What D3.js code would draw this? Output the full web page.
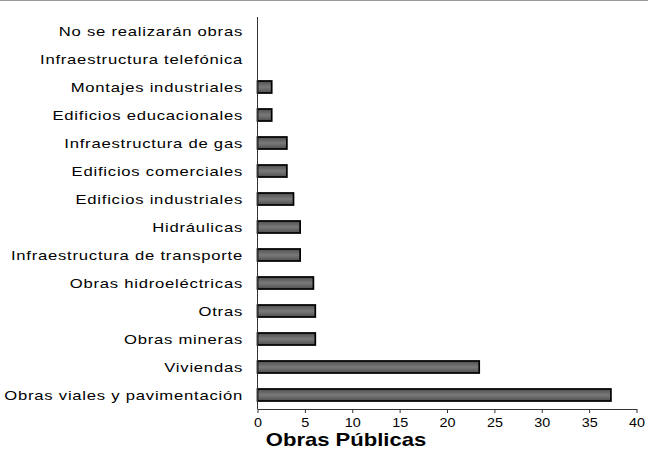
<!DOCTYPE html>
<meta charset="utf-8">
<script src="https://d3js.org/d3.v7.min.js"></script>
<style>
  body { margin: 0; background: #fff; }
  svg { display: block; font-family: Arial, "Liberation Sans", sans-serif; }
  .cat { font-size: 13px; fill: #000; }
  .xaxis text { font-size: 12.5px; fill: #000; }
  .xaxis line, .xaxis path { stroke: #333; }
</style>
<body>
<div id="chart"></div>
<script>
  // categories from top to bottom
  const categories = [
    "No se realizarán obras",
    "Infraestructura telefónica",
    "Montajes industriales",
    "Edificios educacionales",
    "Infraestructura de gas",
    "Edificios comerciales",
    "Edificios industriales",
    "Hidráulicas",
    "Infraestructura de transporte",
    "Obras hidroeléctricas",
    "Otras",
    "Obras mineras",
    "Viviendas",
    "Obras viales y pavimentación"
  ];
  const values = [0, 0, 1.5, 1.5, 3.1, 3.1, 3.8, 4.5, 4.5, 5.9, 6.1, 6.1, 23.4, 37.3];
  const xTicks = [0, 5, 10, 15, 20, 25, 30, 35, 40];
  const title = "Obras Públicas";

  const width = 648, height = 456;

  const svg = d3.select("#chart").append("svg")
    .attr("width", width)
    .attr("height", height);

  svg.append("rect").attr("width", width).attr("height", height).attr("fill", "#fff");
  // thin grey frame line at the top
  svg.append("line")
    .attr("x1", 0).attr("x2", width).attr("y1", 0.5).attr("y2", 0.5)
    .attr("stroke", "#999").attr("stroke-width", 1);

  const grad = svg.append("defs").append("linearGradient")
    .attr("id", "barGrad").attr("x1", 0).attr("x2", 0).attr("y1", 0).attr("y2", 1);
  grad.append("stop").attr("offset", "0%").attr("stop-color", "#4e4e4e");
  grad.append("stop").attr("offset", "50%").attr("stop-color", "#7a7a7a");
  grad.append("stop").attr("offset", "100%").attr("stop-color", "#4e4e4e");

  const x = d3.scaleLinear().domain([0, 40]).range([257.5, 636.5]);
  const y = d3.scaleBand().domain(categories).range([17, 409])
    .paddingInner(0.57).paddingOuter(0.285);

  const rows = categories.map((c, i) => ({ cat: c, val: values[i] }));

  // bars
  svg.append("g").selectAll("rect")
    .data(rows.filter(d => d.val > 0))
    .join("rect")
    .attr("x", x(0))
    .attr("y", d => y(d.cat))
    .attr("width", d => x(d.val) - x(0))
    .attr("height", y.bandwidth())
    .attr("fill", "url(#barGrad)")
    .attr("stroke", "#000")
    .attr("stroke-width", 1.7);

  // x axis
  const xAxis = svg.append("g")
    .attr("class", "xaxis")
    .attr("transform", `translate(0,${409})`)
    .call(d3.axisBottom(x).tickValues(xTicks).tickSize(4).tickSizeOuter(0).tickPadding(5));
  xAxis.selectAll("text").attr("transform", "scale(1.15,1)");

  // y axis line
  svg.append("line")
    .attr("x1", x(0)).attr("x2", x(0))
    .attr("y1", 17).attr("y2", 409)
    .attr("stroke", "#333");

  // category labels, stretched like the original
  svg.append("g").selectAll("text")
    .data(categories)
    .join("text")
    .attr("class", "cat")
    .attr("text-anchor", "end")
    .attr("transform", d => `translate(243,${y(d) + y.bandwidth() / 2}) scale(1.28,1)`)
    .attr("dy", "0.36em")
    .attr("letter-spacing", 0.6)
    .text(d => d);

  svg.append("text")
    .attr("transform", "translate(346,446) scale(1.16,1)")
    .attr("text-anchor", "middle")
    .attr("font-size", 19)
    .attr("font-weight", "bold")
    .attr("fill", "#000")
    .text(title);
</script>
</body>
